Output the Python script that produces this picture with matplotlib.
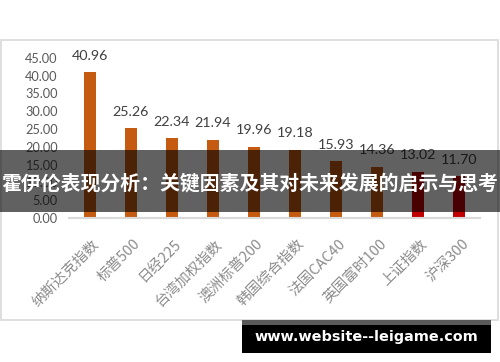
import matplotlib.pyplot as plt
from matplotlib.patches import Rectangle
from matplotlib.transforms import ScaledTranslation

# index names and values
indices = ['纳斯达克指数', '标普500', '日经225', '台湾加权指数', '澳洲标普200',
           '韩国综合指数', '法国CAC40', '英国富时100', '上证指数', '沪深300']
values = [40.96, 25.26, 22.34, 21.94, 19.96, 19.18, 15.93, 14.36, 13.02, 11.70]
bar_colors = ['#C55A11'] * 8 + ['#C00000'] * 2
y_ticks = [0, 5, 10, 15, 20, 25, 30, 35, 40, 45]

banner = '霍伊伦表现分析：关键因素及其对未来发展的启示与思考'
watermark = 'www.website--leigame.com'

plt.rcParams['font.family'] = ['Lato', 'Noto Sans CJK SC', 'DejaVu Sans']

fig = plt.figure(figsize=(5, 3.62), dpi=100)
fig.patch.set_facecolor('white')

# chart frame
fig.patches.append(Rectangle((0.002, 0.116), 0.994, 0.773, transform=fig.transFigure,
                             facecolor='none', edgecolor='#d9d9d9', linewidth=1.2, zorder=-1))

ax = fig.add_axes([0.138, 0.398, 0.822, 0.442])
ax.set_facecolor('none')
x = range(len(values))
bars = ax.bar(x, values, width=0.29, color=bar_colors, zorder=2)

for xi, v in zip(x, values):
    ax.annotate(f'{v:.2f}', (xi, v), xytext=(0, 9), textcoords='offset points',
                ha='center', va='baseline', fontsize=10.3, color='#404040', clip_on=False)

ax.set_xlim(-0.5, len(values) - 0.5)
ax.set_ylim(0, 45)
ax.set_yticks(y_ticks)
ax.set_yticklabels([f'{t:.2f}' for t in y_ticks], fontsize=9.2, color='#595959')
ax.tick_params(axis='y', length=0, pad=8)
ax.tick_params(axis='x', length=0)

ax.set_xticks(list(x))
ax.set_xticklabels(indices, rotation=45, ha='right', va='center', rotation_mode='anchor',
                   fontsize=10.5, color='#8c8c8c', family=['Noto Sans CJK SC', 'DejaVu Sans'])
shift = ScaledTranslation(0.07, -0.19, fig.dpi_scale_trans)
for lab in ax.get_xticklabels():
    lab.set_transform(lab.get_transform() + shift)

for side in ['top', 'right', 'left']:
    ax.spines[side].set_visible(False)
ax.spines['bottom'].set_color('#d9d9d9')
ax.spines['bottom'].set_linewidth(1.5)

# dark banner across the middle
fig.patches.append(Rectangle((0, 0.414), 1, 0.171, transform=fig.transFigure,
                             facecolor='black', alpha=0.62, edgecolor='none', zorder=5))
fig.text(0.5, 0.494, banner, ha='center', va='center', fontsize=14.3, fontweight='bold',
         color='white', family=['Noto Sans CJK SC', 'DejaVu Sans'], zorder=6)

# watermark box
fig.patches.append(Rectangle((0.484, 0.025), 0.498, 0.091, transform=fig.transFigure,
                             facecolor='black', edgecolor='none', zorder=5))
fig.patches.append(Rectangle((0.484, 0.102), 0.498, 0.014, transform=fig.transFigure,
                             facecolor='#5a5a5a', edgecolor='none', zorder=5))
fig.text(0.733, 0.069, watermark, ha='center', va='center', fontsize=10.4, fontweight='bold',
         color='white', family='DejaVu Sans', zorder=6)

fig.savefig('out.png', dpi=100)
